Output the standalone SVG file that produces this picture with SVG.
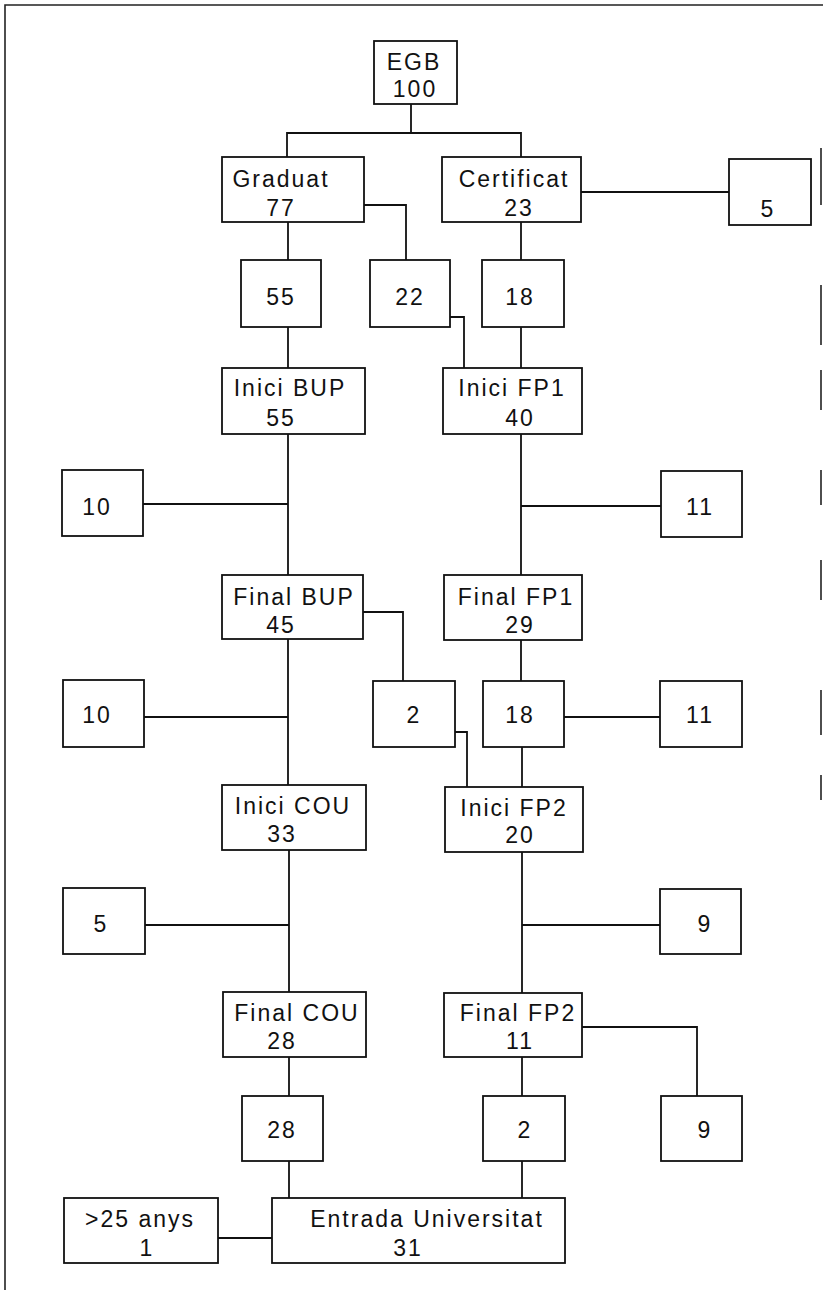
<svg xmlns="http://www.w3.org/2000/svg" width="823" height="1290" viewBox="0 0 823 1290">
<style>
.b{fill:#fff;stroke:#111;stroke-width:1.8}
.t{font-family:"Liberation Sans",Arial,sans-serif;font-size:23px;letter-spacing:2px;fill:#111;text-anchor:middle}
.c{fill:none;stroke:#111;stroke-width:1.8}
.f{fill:none;stroke:#222;stroke-width:1.6}
</style>
<rect width="823" height="1290" fill="#fff"/>
<g id="frame">
<path class="f" d="M5,1290 V5 H823"/>
<path class="f" d="M821,148 V205 M821,285 V345 M821,370 V410 M821,470 V505 M821,560 V600 M821,690 V735 M821,775 V800"/>
</g>
<g id="connectors">
<path class="c" d="M411,104 V133 M287,157 V133 H521 V157"/>
<path class="c" d="M581,192 H729"/>
<path class="c" d="M364,205 H406 V260"/>
<path class="c" d="M288,222 V260"/>
<path class="c" d="M521,222 V260"/>
<path class="c" d="M288,327 V368"/>
<path class="c" d="M450,317 H464 V368"/>
<path class="c" d="M521,327 V368"/>
<path class="c" d="M288,434 V575 M143,504 H288"/>
<path class="c" d="M521,434 V575 M521,506 H661"/>
<path class="c" d="M363,612 H403 V681"/>
<path class="c" d="M288,639 V785 M144,717 H288"/>
<path class="c" d="M521,640 V681 M564,717 H660"/>
<path class="c" d="M455,732 H467 V787"/>
<path class="c" d="M522,747 V787"/>
<path class="c" d="M289,850 V992 M145,925 H289"/>
<path class="c" d="M522,852 V993 M522,925 H660"/>
<path class="c" d="M582,1027 H697 V1096"/>
<path class="c" d="M522,1057 V1096"/>
<path class="c" d="M289,1057 V1096"/>
<path class="c" d="M289,1161 V1198"/>
<path class="c" d="M522,1161 V1198"/>
<path class="c" d="M218,1238 H272"/>
</g>
<g id="egb"><rect class="b" x="374" y="41" width="83" height="63"/><text class="t" x="414" y="70">EGB</text><text class="t" x="415" y="97">100</text></g>
<g id="graduat"><rect class="b" x="222" y="157" width="142" height="65"/><text class="t" x="281" y="187">Graduat</text><text class="t" x="281" y="216">77</text></g>
<g id="certificat"><rect class="b" x="442" y="157" width="139" height="65"/><text class="t" x="514" y="187">Certificat</text><text class="t" x="519" y="216">23</text></g>
<g id="n5a"><rect class="b" x="729" y="159" width="82" height="66"/><text class="t" x="768" y="217">5</text></g>
<g id="n55"><rect class="b" x="241" y="260" width="80" height="67"/><text class="t" x="281" y="305">55</text></g>
<g id="n22"><rect class="b" x="370" y="260" width="80" height="67"/><text class="t" x="410" y="305">22</text></g>
<g id="n18a"><rect class="b" x="482" y="260" width="82" height="67"/><text class="t" x="520" y="305">18</text></g>
<g id="inici-bup"><rect class="b" x="222" y="368" width="143" height="66"/><text class="t" x="290" y="396">Inici BUP</text><text class="t" x="281" y="426">55</text></g>
<g id="inici-fp1"><rect class="b" x="443" y="368" width="139" height="66"/><text class="t" x="512" y="396">Inici FP1</text><text class="t" x="520" y="426">40</text></g>
<g id="n10a"><rect class="b" x="62" y="470" width="81" height="66"/><text class="t" x="97" y="515">10</text></g>
<g id="n11a"><rect class="b" x="661" y="471" width="81" height="66"/><text class="t" x="700" y="515">11</text></g>
<g id="final-bup"><rect class="b" x="222" y="575" width="141" height="64"/><text class="t" x="294" y="605">Final BUP</text><text class="t" x="281" y="633">45</text></g>
<g id="final-fp1"><rect class="b" x="444" y="575" width="138" height="65"/><text class="t" x="516" y="605">Final FP1</text><text class="t" x="520" y="633">29</text></g>
<g id="n10b"><rect class="b" x="63" y="680" width="81" height="67"/><text class="t" x="97" y="723">10</text></g>
<g id="n2a"><rect class="b" x="373" y="681" width="82" height="66"/><text class="t" x="414" y="723">2</text></g>
<g id="n18b"><rect class="b" x="483" y="681" width="81" height="66"/><text class="t" x="520" y="723">18</text></g>
<g id="n11b"><rect class="b" x="660" y="681" width="82" height="66"/><text class="t" x="700" y="723">11</text></g>
<g id="inici-cou"><rect class="b" x="222" y="785" width="144" height="65"/><text class="t" x="293" y="814">Inici COU</text><text class="t" x="282" y="842">33</text></g>
<g id="inici-fp2"><rect class="b" x="445" y="787" width="138" height="65"/><text class="t" x="514" y="816">Inici FP2</text><text class="t" x="520" y="843">20</text></g>
<g id="n5b"><rect class="b" x="63" y="888" width="82" height="66"/><text class="t" x="101" y="932">5</text></g>
<g id="n9a"><rect class="b" x="660" y="889" width="81" height="65"/><text class="t" x="705" y="932">9</text></g>
<g id="final-cou"><rect class="b" x="223" y="992" width="143" height="65"/><text class="t" x="297" y="1021">Final COU</text><text class="t" x="282" y="1049">28</text></g>
<g id="final-fp2"><rect class="b" x="444" y="993" width="138" height="64"/><text class="t" x="518" y="1021">Final FP2</text><text class="t" x="520" y="1049">11</text></g>
<g id="n28"><rect class="b" x="242" y="1096" width="81" height="65"/><text class="t" x="282" y="1138">28</text></g>
<g id="n2b"><rect class="b" x="483" y="1096" width="82" height="65"/><text class="t" x="525" y="1138">2</text></g>
<g id="n9b"><rect class="b" x="661" y="1096" width="81" height="65"/><text class="t" x="705" y="1138">9</text></g>
<g id="anys25"><rect class="b" x="64" y="1198" width="154" height="65"/><text class="t" x="140" y="1227">&gt;25 anys</text><text class="t" x="147" y="1256">1</text></g>
<g id="entrada"><rect class="b" x="272" y="1198" width="293" height="65"/><text class="t" x="427" y="1227">Entrada Universitat</text><text class="t" x="408" y="1256">31</text></g>
</svg>
